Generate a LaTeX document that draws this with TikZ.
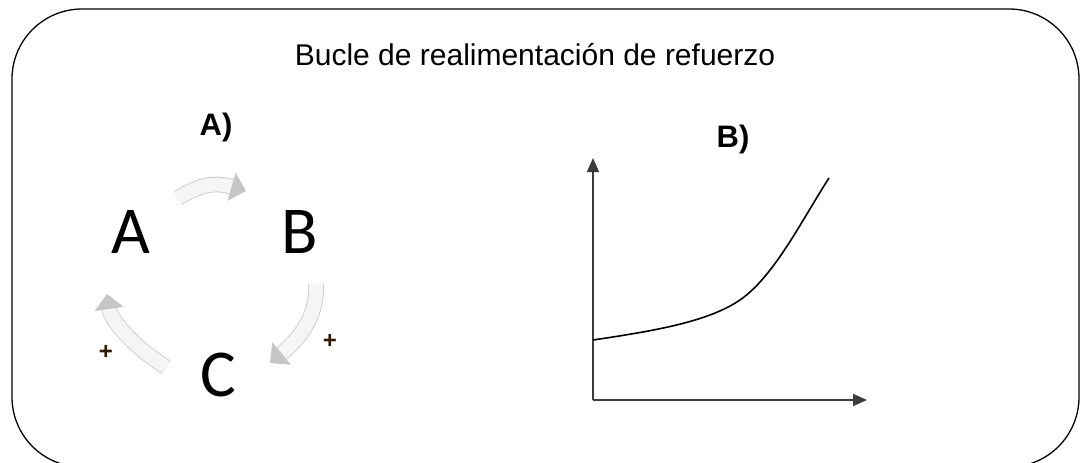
\documentclass[tikz,border=0pt]{standalone}
\usepackage{fontspec}
\setmainfont{Liberation Sans}
\newfontfamily\letras{Carlito}
\usetikzlibrary{arrows.meta,calc}
\definecolor{gristrazo}{RGB}{60,60,60}
\definecolor{naranja}{RGB}{120,70,10}

\tikzset{
  letra/.style={inner sep=0pt, font=\letras\fontsize{67}{67}\selectfont},
  rotulo/.style={anchor=base, inner sep=0pt, font=\fontsize{31}{31}\selectfont\bfseries},
  signo/.style={inner sep=0pt, font=\fontsize{24}{24}\selectfont\bfseries},
  flecha/.style={draw=gray!45, line width=0.8pt, double=gray!8, double distance=14pt,
    -{Triangle[length=15pt,width=29pt]}},
  eje/.style={gristrazo, line width=1.5pt, -{Triangle[length=14pt,width=12pt]}}
}

\begin{document}
\begin{tikzpicture}[x=1pt,y=-1pt]
	\useasboundingbox (0,0) rectangle (1084,463);
	
	% marco
	\draw[line width=1.3pt, rounded corners=70pt] (12,9) rectangle (1079,467);
	\node[anchor=base, inner sep=0pt, font=\fontsize{30}{30}\selectfont] (titulo) at (535,65) {Bucle de realimentaci\'on de refuerzo};
	
	%Parte A
	\node[rotulo] (rotA) at (216,135) {A)};
	\node[letra] (A) at (131,232) {A};
	\node[letra] (B) at (300,232) {B};
	\node[letra] (C) at (218,375) {C};
	
	\draw[flecha] ($(A)+(47,-34)$) .. controls ($(A)+(70,-48)$) and ($(B)+(-85,-50)$) .. ($(B)+(-54,-41)$);
	\draw[flecha] ($(B)+(16,52)$) .. controls ($(B)+(18,85)$) and ($(C)+(80,-35)$) .. ($(C)+(52,-12)$);
	\draw[flecha] ($(C)+(-52,-8)$) .. controls ($(C)+(-80,-25)$) and ($(A)+(-20,90)$) .. ($(A)+(-24,62)$);
	
	\node[signo, text=naranja!40!black] (mas1) at (330,341) {+};
	\node[signo, text=naranja!40!black] (mas2) at (106,352) {+};
	
	%Parte B
	\node[rotulo] (rotB) at (733,147) {B)};
	\coordinate (O) at (593,400);
	\draw[eje] (O) -- (593,158);
	\draw[eje] (O) -- (867,400);
	\draw[black, line width=1.6pt] (593,340) .. controls (660,330) and (720,320) .. (750,292)
		.. controls (780,265) and (805,215) .. (829,178);
	
\end{tikzpicture}
\end{document}
